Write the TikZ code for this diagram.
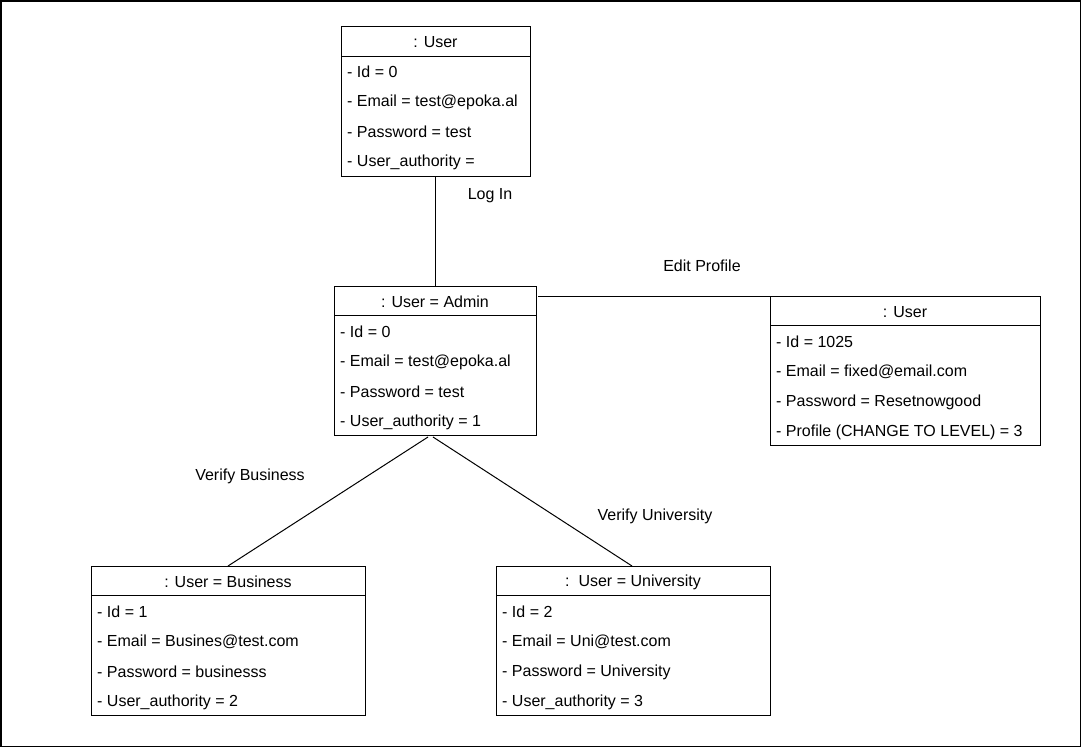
\documentclass[tikz,border=0pt]{standalone}
\usepackage{fontspec}
\setmainfont{Liberation Sans}
\begin{document}
\begin{tikzpicture}[x=1pt,y=-1pt,
  box/.style={draw,line width=1pt,anchor=north west,inner sep=0pt},
  head/.style={font=\fontsize{16}{18}\selectfont,anchor=center,inner sep=0pt},
  row/.style={font=\fontsize{16}{18}\selectfont,anchor=west,inner sep=0pt},
  lbl/.style={font=\fontsize{16}{18}\selectfont,anchor=center,inner sep=0pt},
  conn/.style={line width=1pt}]
\useasboundingbox (0,0) rectangle (1081,747);
\draw[line width=1.5pt] (0.75,0.75) rectangle (1080.25,746.25);

% Box 1
\node[box,minimum width=189pt,minimum height=150pt] (u1) at (341,26) {};
\draw[line width=1pt] (341,56) -- (530,56);
\node[head] (u1h) at (435.5,42) {: User};
\node[row] (u1a) at (347,72) {- Id = 0};
\node[row] (u1b) at (347,102) {- Email = test@epoka.al};
\node[row] (u1c) at (347,132) {- Password = test};
\node[row] (u1d) at (347,162) {- User\_authority =};

% Box 2
\node[box,minimum width=202pt,minimum height=149pt] (u2) at (334,286) {};
\draw[line width=1pt] (334,315) -- (536,315);
\node[head] (u2h) at (435,302) {: User = Admin};
\node[row] (u2a) at (340,332) {- Id = 0};
\node[row] (u2b) at (340,362) {- Email = test@epoka.al};
\node[row] (u2c) at (340,392) {- Password = test};
\node[row] (u2d) at (340,422) {- User\_authority = 1};

% Box 3
\node[box,minimum width=270pt,minimum height=149pt] (u3) at (770,296) {};
\draw[line width=1pt] (770,325) -- (1040,325);
\node[head] (u3h) at (905,312) {: User};
\node[row] (u3a) at (776,342) {- Id = 1025};
\node[row] (u3b) at (776,372) {- Email = fixed@email.com};
\node[row] (u3c) at (776,402) {- Password = Resetnowgood};
\node[row] (u3d) at (776,432) {- Profile (CHANGE TO LEVEL) = 3};

% Box 4
\node[box,minimum width=274pt,minimum height=149pt] (u4) at (91,566) {};
\draw[line width=1pt] (91,595) -- (365,595);
\node[head] (u4h) at (228,582) {: User = Business};
\node[row] (u4a) at (97,612) {- Id = 1};
\node[row] (u4b) at (97,642) {- Email = Busines@test.com};
\node[row] (u4c) at (97,672) {- Password = businesss};
\node[row] (u4d) at (97,702) {- User\_authority = 2};

% Box 5
\node[box,minimum width=274pt,minimum height=149pt] (u5) at (496,566) {};
\draw[line width=1pt] (496,595) -- (770,595);
\node[head] (u5h) at (633,582) {:\ \ User = University};
\node[row] (u5a) at (502,612) {- Id = 2};
\node[row] (u5b) at (502,642) {- Email = Uni@test.com};
\node[row] (u5c) at (502,672) {- Password = University};
\node[row] (u5d) at (502,702) {- User\_authority = 3};

% Connectors
\coordinate (c1a) at (435,176);
\coordinate (c1b) at (435,286);
\draw[conn] (c1a) -- (c1b);
\node[lbl] (l1) at (490,196) {Log In};

\coordinate (c2a) at (538,296.5);
\coordinate (c2b) at (770,296.5);
\draw[conn] (c2a) -- (c2b);
\node[lbl] (l2) at (702,266) {Edit Profile};

\coordinate (c3a) at (428,437);
\coordinate (c3b) at (228,566);
\draw[conn] (c3a) -- (c3b);
\node[lbl] (l3) at (250,476) {Verify Business};

\coordinate (c4a) at (433,437);
\coordinate (c4b) at (632,566);
\draw[conn] (c4a) -- (c4b);
\node[lbl] (l4) at (655,516) {Verify University};
\end{tikzpicture}
\end{document}
